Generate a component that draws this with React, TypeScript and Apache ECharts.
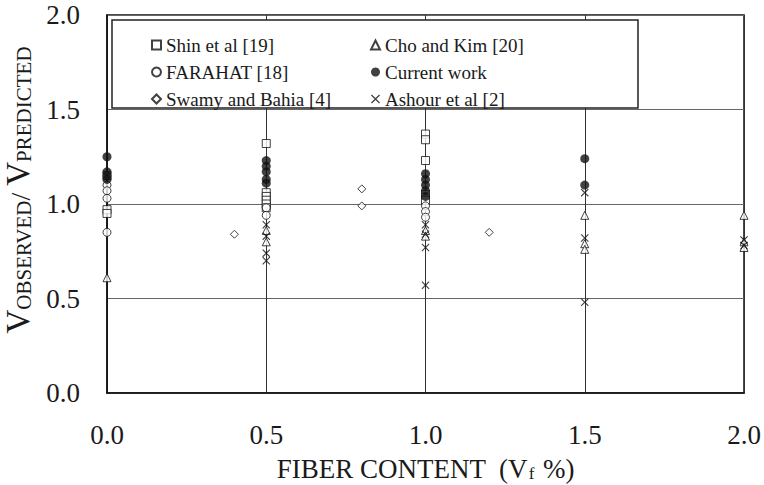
import React, { useEffect, useRef } from "react";
import * as echarts from "echarts";

const X_TICKS = [0, 0.5, 1.0, 1.5, 2.0];
const Y_TICKS = [0, 0.5, 1.0, 1.5, 2.0];

const shin: number[][] = [
  [0, 0.97], [0, 0.95], [0, 1.15],
  [0.5, 1.32], [0.5, 1.06], [0.5, 1.04], [0.5, 1.02], [0.5, 1.0], [0.5, 0.98],
  [1.0, 1.37], [1.0, 1.34], [1.0, 1.23], [1.0, 1.05], [1.0, 1.02],
];
const cho: number[][] = [
  [0, 0.61],
  [0.5, 0.86], [0.5, 0.8],
  [1.0, 0.86], [1.0, 0.83],
  [1.5, 0.94], [1.5, 0.79], [1.5, 0.76],
  [2.0, 0.94], [2.0, 0.8], [2.0, 0.77],
];
const farahat: number[][] = [
  [0, 1.1], [0, 1.07], [0, 1.03], [0, 0.85],
  [0.5, 0.98], [0.5, 0.94],
  [1.0, 0.99], [1.0, 0.96], [1.0, 0.93],
];
const current: number[][] = [
  [0, 1.25], [0, 1.17], [0, 1.15], [0, 1.13],
  [0.5, 1.23], [0.5, 1.2], [0.5, 1.17], [0.5, 1.13], [0.5, 1.11],
  [1.0, 1.16], [1.0, 1.13], [1.0, 1.1], [1.0, 1.07], [1.0, 1.04],
  [1.5, 1.24], [1.5, 1.1],
];
const swamy: number[][] = [
  [0.4, 0.84], [0.8, 1.08], [0.8, 0.99], [1.2, 0.85],
];
const ashour: number[][] = [
  [0.5, 0.89], [0.5, 0.83], [0.5, 0.74], [0.5, 0.7],
  [1.0, 0.89], [1.0, 0.84], [1.0, 0.77], [1.0, 0.57],
  [1.5, 1.06], [1.5, 0.82], [1.5, 0.48],
  [2.0, 0.81], [2.0, 0.78],
];

const FONT = "'Liberation Serif', serif";
const CROSS =
  "path://M0,1 L1,0 L5,4 L9,0 L10,1 L6,5 L10,9 L9,10 L5,6 L1,10 L0,9 L4,5 Z";

const hollow = { color: "#fff", borderColor: "#111", borderWidth: 1 };
const solid = { color: "#111", borderColor: "#111", borderWidth: 0 };
const legendText = { fontSize: 19, fontFamily: FONT, color: "#1a1a1a", lineHeight: 20 };

export default function App() {
  const ref = useRef<HTMLDivElement>(null);
  useEffect(() => {
    if (!ref.current) return;
    const chart = echarts.init(ref.current, undefined, { renderer: "svg" });
    const mk = (name: string, data: number[][], symbol: string, size: number, style: any) => ({
      name,
      type: "scatter",
      data,
      symbol,
      symbolSize: size,
      itemStyle: style,
      z: 3,
    });
    chart.setOption({
      animation: false,
      backgroundColor: "#fff",
      grid: {
        left: 107,
        right: 20,
        top: 15,
        bottom: 92,
        outerBoundsMode: "none",
        containLabel: false,
        show: true,
        borderColor: "#111",
        borderWidth: 1.5,
      },
      xAxis: {
        type: "value",
        min: X_TICKS[0],
        max: X_TICKS[X_TICKS.length - 1],
        interval: 0.5,
        axisLine: { show: true, lineStyle: { color: "#111", width: 1.5 } },
        axisTick: { show: false },
        axisLabel: {
          margin: 28,
          fontSize: 27,
          color: "#1a1a1a",
          fontFamily: FONT,
          formatter: (v: number) => v.toFixed(1),
        },
        splitLine: { show: true, lineStyle: { color: "#333", width: 1 } },
        name: "{t|FIBER CONTENT  (V}{f|f}{t| %)}",
        nameLocation: "middle",
        nameGap: 62,
        nameTextStyle: {
          fontFamily: FONT,
          fontSize: 27,
          rich: {
            t: { fontSize: 27, fontFamily: FONT, color: "#1a1a1a" },
            f: { fontSize: 17, fontFamily: FONT, color: "#1a1a1a", padding: [10, 2, 0, 1] },
          },
        },
      },
      yAxis: {
        type: "value",
        min: Y_TICKS[0],
        max: Y_TICKS[Y_TICKS.length - 1],
        interval: 0.5,
        axisLine: { show: true, lineStyle: { color: "#111", width: 1.5 } },
        axisTick: { show: false },
        axisLabel: {
          margin: 27,
          fontSize: 27,
          color: "#1a1a1a",
          fontFamily: FONT,
          formatter: (v: number) => v.toFixed(1),
        },
        splitLine: { show: true, lineStyle: { color: "#666", width: 1 } },
        name: "{v|V}{s|OBSERVED}{p|/ }{v|V}{s|PREDICTED}",
        nameLocation: "middle",
        nameRotate: 90,
        nameGap: 73,
        nameTextStyle: {
          fontFamily: FONT,
          padding: [0, 0, 0, 28],
          rich: {
            v: { fontSize: 33, fontFamily: FONT, color: "#1a1a1a", verticalAlign: "bottom" },
            s: { fontSize: 21, fontFamily: FONT, color: "#1a1a1a", verticalAlign: "bottom" },
            p: { fontSize: 28, fontFamily: FONT, color: "#1a1a1a", verticalAlign: "bottom" },
          },
        },
      },
      legend: [
        {
          data: ["Shin et al [19]", "FARAHAT [18]", "Swamy and Bahia [4]"],
          orient: "vertical",
          left: 146,
          top: 30,
          itemWidth: 9,
          itemHeight: 9,
          itemGap: 7,
          textStyle: legendText,
          selectedMode: false,
        },
        {
          data: ["Cho and Kim [20]", "Current work", "Ashour et al [2]"],
          orient: "vertical",
          left: 365,
          top: 30,
          itemWidth: 9,
          itemHeight: 9,
          itemGap: 7,
          textStyle: legendText,
          selectedMode: false,
        },
      ],
      graphic: [
        {
          type: "rect",
          z: 1,
          shape: { x: 112, y: 20, width: 526, height: 88 },
          style: { fill: "#fff", stroke: "#222", lineWidth: 1.5 },
        },
      ],
      series: [
        mk("Shin et al [19]", shin, "rect", 8, hollow),
        mk("Cho and Kim [20]", cho, "triangle", 8, hollow),
        mk("FARAHAT [18]", farahat, "circle", 8, hollow),
        mk("Current work", current, "circle", 9, solid),
        mk("Swamy and Bahia [4]", swamy, "diamond", 8, hollow),
        mk("Ashour et al [2]", ashour, CROSS, 8, solid),
      ],
    });
    return () => chart.dispose();
  }, []);
  return (
    <div
      ref={ref}
      style={{ position: "absolute", left: 0, top: 0, width: 764, height: 485 }}
    />
  );
}
